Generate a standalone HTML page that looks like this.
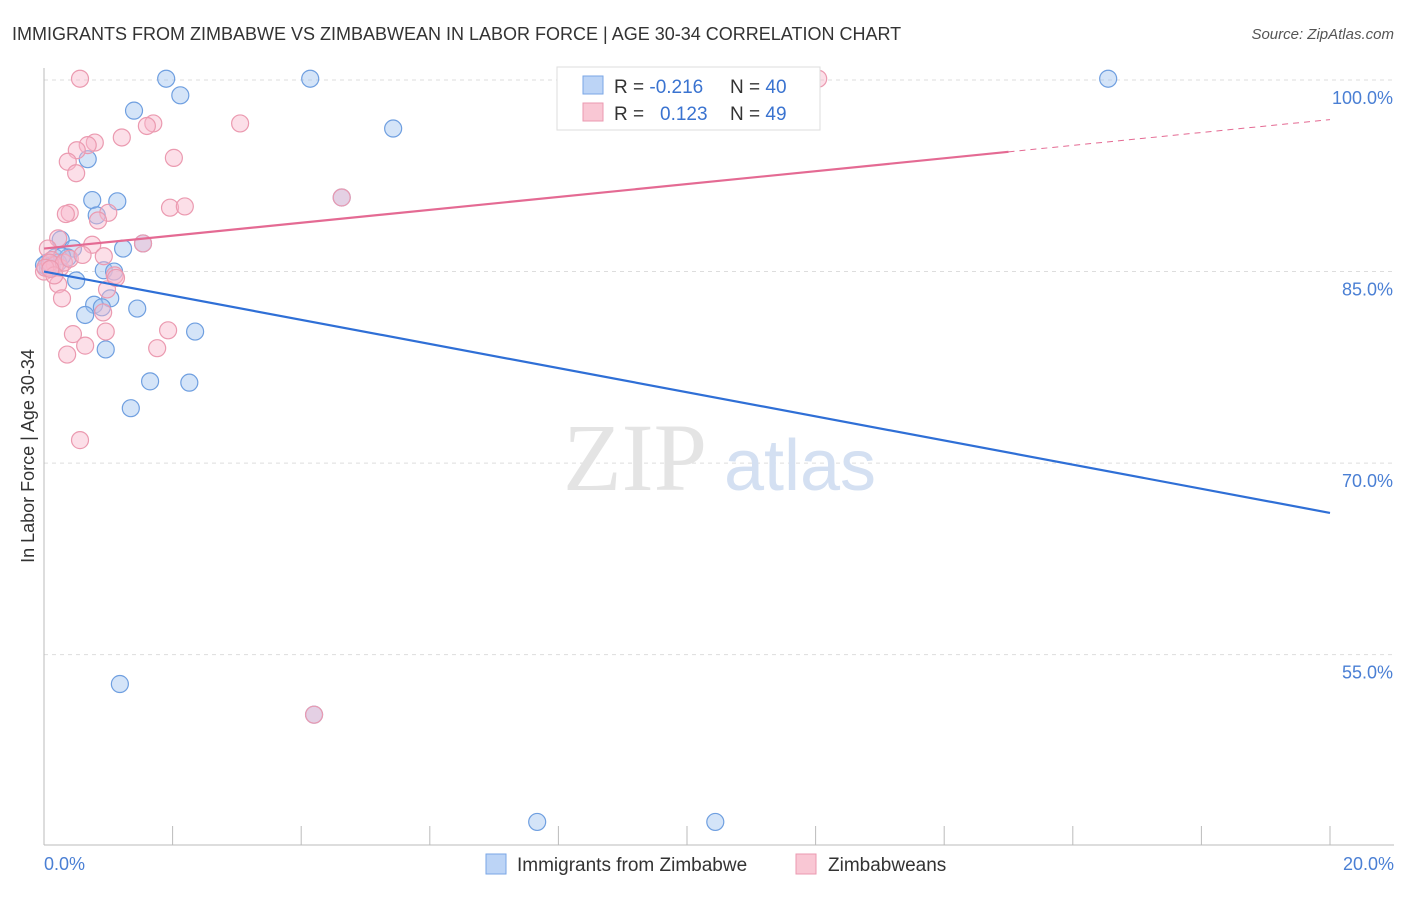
<!DOCTYPE html>
<html><head><meta charset="utf-8"><style>
body{margin:0;background:#fff;font-family:"Liberation Sans",sans-serif;}
</style></head><body>
<svg width="1406" height="892" viewBox="0 0 1406 892" font-family="Liberation Sans, sans-serif">
<text x="12" y="40" font-size="18" fill="#333">IMMIGRANTS FROM ZIMBABWE VS ZIMBABWEAN IN LABOR FORCE | AGE 30-34 CORRELATION CHART</text>
<text x="1394" y="39" font-size="15" fill="#555" font-style="italic" text-anchor="end">Source: ZipAtlas.com</text>
<g id="grid"></g>
<g><text x="635" y="490" font-size="96" fill="#e4e4e4" font-family="Liberation Serif, serif" text-anchor="middle">ZIP</text><text x="800" y="490" font-size="72" fill="#d4e0f2" text-anchor="middle">atlas</text></g>
<line x1="44" y1="68" x2="44" y2="845" stroke="#bbb"/>
<line x1="44" y1="845" x2="1394" y2="845" stroke="#bbb"/>
<g id="xticks"></g>
<g id="ylabels"></g>
<text x="44" y="870" font-size="18" fill="#4a7fd4">0.0%</text>
<text x="1394" y="870" font-size="18" fill="#4a7fd4" text-anchor="end">20.0%</text>
<text transform="translate(34,456) rotate(-90)" font-size="18" fill="#333" text-anchor="middle">In Labor Force | Age 30-34</text>
<g id="pts"></g>
<g id="lines"></g>
<g>
<rect x="557" y="67" width="263" height="63" fill="#fff" stroke="#ddd"/>
<rect x="583" y="76" width="20" height="18" fill="#bcd4f6" stroke="#7aa6e6"/>
<rect x="583" y="103" width="20" height="18" fill="#f9c7d4" stroke="#eb9ab0"/>
<text x="614" y="93" font-size="19" fill="#333">R = <tspan fill="#3a73d0">-0.216</tspan><tspan x="730">N = </tspan><tspan fill="#3a73d0">40</tspan></text>
<text x="614" y="120" font-size="19" fill="#333">R = <tspan x="660" fill="#3a73d0">0.123</tspan><tspan x="730">N = </tspan><tspan fill="#3a73d0">49</tspan></text>
</g>
<g>
<rect x="486" y="854" width="20" height="20" fill="#bcd4f6" stroke="#7aa6e6"/>
<text x="517" y="871" font-size="19" fill="#333">Immigrants from Zimbabwe</text>
<rect x="796" y="854" width="20" height="20" fill="#f9c7d4" stroke="#eb9ab0"/>
<text x="828" y="871" font-size="19" fill="#333">Zimbabweans</text>
</g>
</svg>
<script>
const yTicks=[100,85,70,55];
const yTickLabels=["100.0%","85.0%","70.0%","55.0%"];
const blueX=[1.90,4.14,16.55,2.12,1.40,5.43,0.68,0.75,1.14,0.82,4.63,0.26,1.23,0.45,1.54,0.17,0.37,0.05,0.12,0.93,1.09,0.50,0.78,1.03,0.90,1.45,0.64,2.35,0.96,1.65,2.26,1.35,1.18,4.20,7.67,10.44,0.06,0.22,0,0.28];
const blueY=[100.1,100.1,100.1,98.8,97.6,96.2,93.8,90.6,90.5,89.4,90.8,87.5,86.8,86.8,87.2,86.1,86.1,85.7,85.3,85.1,85.0,84.3,82.4,82.9,82.2,82.1,81.6,80.3,78.9,76.4,76.3,74.3,52.7,50.3,41.9,41.9,85.3,85.7,85.5,86.2];
const pinkX=[0.56,12.04,1.70,1.60,3.05,1.21,0.79,0.68,0.51,2.02,0.37,0.50,0.40,0.34,1.00,0.84,1.96,2.19,0.22,0.75,1.54,0.93,0.06,0.12,0.25,0,1.10,0.22,0.98,0.28,0.92,0.45,0.96,1.93,0.64,1.76,0.36,0.56,4.63,4.20,0.17,0.09,0.02,0.31,1.12,0.16,0.10,0.40,0.60];
const pinkY=[100.1,100.1,96.6,96.4,96.6,95.5,95.1,94.9,94.5,93.9,93.6,92.7,89.6,89.5,89.6,89.0,90.0,90.1,87.6,87.1,87.2,86.2,86.8,85.9,85.3,85.0,84.7,84.0,83.6,82.9,81.8,80.1,80.3,80.4,79.2,79.0,78.5,71.8,90.8,50.3,85.5,85.7,85.3,85.7,84.5,84.7,85.2,86.0,86.3];
const blueTrend=[85.0,66.1];
const pinkTrend=[86.8,96.9];
const pinkSolidEnd=15;
const NS='http://www.w3.org/2000/svg';
const sx=v=>44+v*64.3, sy=v=>80+(100-v)*12.77;
function mk(t,a,p){const e=document.createElementNS(NS,t);for(const k in a)e.setAttribute(k,a[k]);p.appendChild(e);return e;}
const grid=document.getElementById('grid'),yl=document.getElementById('ylabels'),xt=document.getElementById('xticks');
yTicks.forEach((t,i)=>{const l=mk('line',{x1:44,x2:1394,y1:sy(t),y2:sy(t),stroke:'#ddd','stroke-dasharray':'4,4'},grid);

const tx=mk('text',{x:1393,y:sy(t)+24,'font-size':18,fill:'#4a7fd4','text-anchor':'end'},yl);tx.textContent=yTickLabels[i];
});
for(let i=1;i<=10;i++){const l=mk('line',{x1:sx(i*2),x2:sx(i*2),y1:826,y2:845,stroke:'#bbb'},xt);
}
const pts=document.getElementById('pts');
blueX.forEach((x,i)=>{const c=mk('circle',{cx:sx(x),cy:sy(blueY[i]),r:8.5,fill:'rgba(160,195,240,0.45)',stroke:'#6f9fe0','stroke-width':1.2},pts);
});
pinkX.forEach((x,i)=>{const c=mk('circle',{cx:sx(x),cy:sy(pinkY[i]),r:8.5,fill:'rgba(248,185,205,0.45)',stroke:'#eb9ab0','stroke-width':1.2},pts);
});
const ln=document.getElementById('lines');
let b=mk('line',{x1:sx(0),y1:sy(blueTrend[0]),x2:sx(20),y2:sy(blueTrend[1]),stroke:'#2f6fd6','stroke-width':2.2},ln);

const pm=v=>pinkTrend[0]+(pinkTrend[1]-pinkTrend[0])*v/20;
let p=mk('line',{x1:sx(0),y1:sy(pm(0)),x2:sx(pinkSolidEnd),y2:sy(pm(pinkSolidEnd)),stroke:'#e46a93','stroke-width':2.2},ln);

let pd=mk('line',{x1:sx(pinkSolidEnd),y1:sy(pm(pinkSolidEnd)),x2:sx(20),y2:sy(pm(20)),stroke:'#e46a93','stroke-width':1,'stroke-dasharray':'6,5'},ln);

</script>
</body></html>
